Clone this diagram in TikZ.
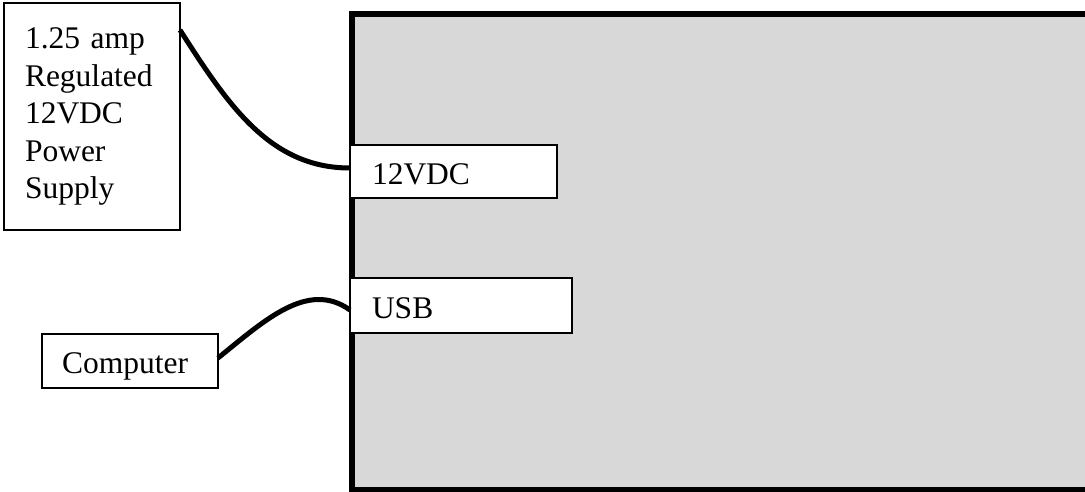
\documentclass[tikz,border=0pt]{standalone}
\usepackage{fontspec}
\setmainfont{Liberation Serif}
\usetikzlibrary{positioning}
\definecolor{boardgray}{RGB}{216,216,216}

\begin{document}
\begin{tikzpicture}[x=1pt, y=-1pt, thick, cable/.style={draw=black, line width=5pt}, every node/.style={font=\fontsize{31.5}{37.5}\selectfont}]
% Define styles for the board, the boxes and the ports
\tikzstyle{board} = [draw, fill=boardgray, rectangle, line width=5.5pt, inner sep=0pt, outer sep=0pt, anchor=north west]
\tikzstyle{box} = [draw, fill=white, rectangle, line width=1.5pt, inner ysep=0pt, outer sep=0pt, anchor=north west, align=left]
\tikzstyle{port} = [box, text height=25pt, text depth=0pt]

\useasboundingbox (0,0) rectangle (1085,491);

% Nodes placement
\node [board, minimum width=745pt, minimum height=476pt] (board) at (352,14) {};
\node [box, text width=134pt, inner xsep=21pt, minimum height=227pt] (supply) at (4,3) {1.25 amp\\ Regulated\\ 12VDC\\ Power\\ Supply};
\node [port, text width=163pt, inner xsep=22pt, minimum height=53pt] (vdc) at (350,145) {12VDC};
\node [port, text width=178pt, inner xsep=22pt, minimum height=55pt] (usb) at (350,278) {USB};
\node [port, text width=136pt, inner xsep=20pt, minimum height=54pt] (computer) at (42,334) {Computer};

% Draw cables
\draw [cable] ([yshift=-27pt]supply.north east) .. controls +(48,75) and +(-80,0) .. ([yshift=3.5pt]vdc.west);
\draw [cable] ([yshift=3pt]computer.east) .. controls +(47,-38) and +(-42,-30) .. ([yshift=-4.5pt]usb.west);
\end{tikzpicture}
\end{document}
